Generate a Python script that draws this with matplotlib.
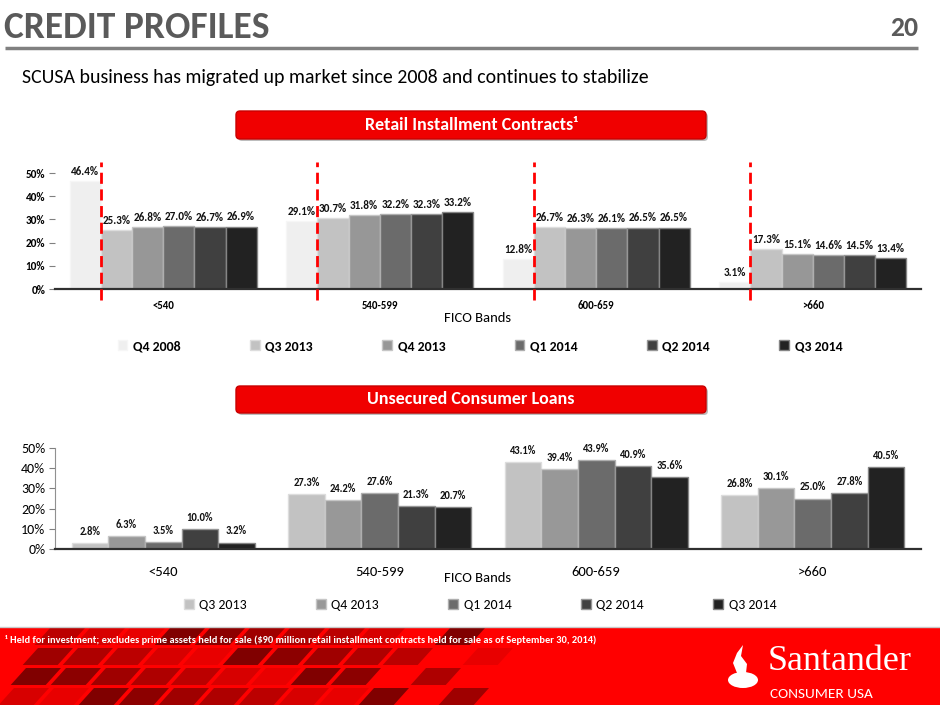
import numpy as np
import matplotlib
matplotlib.use('Agg')
import matplotlib.pyplot as plt
from matplotlib import font_manager
from matplotlib.patches import Rectangle, FancyBboxPatch, Polygon, Ellipse
from matplotlib.colors import to_rgb

#%% Data
bands = ['<540', '540-599', '600-659', '>660']

# Retail installment contracts, share by FICO band (%)
ric_quarters = ['Q4 2008', 'Q3 2013', 'Q4 2013', 'Q1 2014', 'Q2 2014', 'Q3 2014']
ric_q4_2008 = [46.4, 29.1, 12.8, 3.1]
ric_q3_2013 = [25.3, 30.7, 26.7, 17.3]
ric_q4_2013 = [26.8, 31.8, 26.3, 15.1]
ric_q1_2014 = [27.0, 32.2, 26.1, 14.6]
ric_q2_2014 = [26.7, 32.3, 26.5, 14.5]
ric_q3_2014 = [26.9, 33.2, 26.5, 13.4]
ric_values = [ric_q4_2008, ric_q3_2013, ric_q4_2013, ric_q1_2014, ric_q2_2014, ric_q3_2014]
ric_colors = ['#efefef', '#c2c2c2', '#979797', '#6b6b6b', '#404040', '#222222']

# Unsecured consumer loans, share by FICO band (%)
ucl_quarters = ['Q3 2013', 'Q4 2013', 'Q1 2014', 'Q2 2014', 'Q3 2014']
ucl_q3_2013 = [2.8, 27.3, 43.1, 26.8]
ucl_q4_2013 = [6.3, 24.2, 39.4, 30.1]
ucl_q1_2014 = [3.5, 27.6, 43.9, 25.0]
ucl_q2_2014 = [10.0, 21.3, 40.9, 27.8]
ucl_q3_2014 = [3.2, 20.7, 35.6, 40.5]
ucl_values = [ucl_q3_2013, ucl_q4_2013, ucl_q1_2014, ucl_q2_2014, ucl_q3_2014]
ucl_colors = ['#c2c2c2', '#989898', '#6b6b6b', '#404040', '#222222']

#%% Fonts
names = {f.name for f in font_manager.fontManager.ttflist}
body = 'DejaVu Sans'
for cand in ['Carlito', 'Liberation Sans Narrow', 'Open Sans']:
    if cand in names:
        body = cand
        break
plt.rcParams['font.family'] = [body, 'DejaVu Sans']

W, H = 940, 705
fig = plt.figure(figsize=(9.4, 7.05), dpi=100)
bg = fig.add_axes([0, 0, 1, 1])
bg.set_xlim(0, W)
bg.set_ylim(H, 0)
bg.axis('off')

def ax_rect(x0, x1, ytop, ybot):
    return [x0/W, 1 - ybot/H, (x1 - x0)/W, (ybot - ytop)/H]

def lighter(c, f):
    r = np.array(to_rgb(c))
    return tuple(r + (1 - r)*f)

#%% Header
bg.text(4, 28, 'CREDIT PROFILES', fontsize=27, weight='bold', color='#5a5a5a', va='center')
bg.text(918, 28, '20', fontsize=20, weight='bold', color='#5a5a5a', va='center', ha='right')
bg.plot([5, 918], [48, 48], color='#808080', lw=2.5, solid_capstyle='butt')
bg.text(22, 77, 'SCUSA business has migrated up market since 2008 and continues to stabilize',
        fontsize=14.3, va='center', color='black')

def banner(y0, y1, text):
    bg.add_patch(FancyBboxPatch((238, y0 + 2), 470, y1 - y0, boxstyle='round,pad=0,rounding_size=4',
                                fc='#bdbdbd', ec='none'))
    bg.add_patch(FancyBboxPatch((236, y0), 470, y1 - y0, boxstyle='round,pad=0,rounding_size=4',
                                fc='#f00000', ec='#c80000', lw=1))
    bg.text(471, (y0 + y1)/2, text, ha='center', va='center', color='white', weight='bold', fontsize=13)

banner(111, 139, 'Retail Installment Contracts¹')
banner(386, 413, 'Unsecured Consumer Loans')

#%% Retail installment contracts chart
x = np.arange(len(bands))
ax1 = fig.add_axes(ax_rect(55, 921, 173, 289))
n = len(ric_quarters)
w = 0.863/n
for j in range(n):
    pos = x + (j - (n - 1)/2)*w
    ax1.bar(pos, ric_values[j], w, color=ric_colors[j], edgecolor=lighter(ric_colors[j], 0.45),
            linewidth=1, label=ric_quarters[j], zorder=2)
    for p, v in zip(pos, ric_values[j]):
        ax1.annotate('%.1f%%' % v, (p, v), xytext=(0, 3), textcoords='offset points',
                     ha='center', va='bottom', fontsize=8, weight='bold', color='#111111')
for i in x:
    ax1.axvline(i - 2*w, ymin=-0.095, ymax=1.095, color='#ff0000', lw=2, dashes=(4, 2),
                clip_on=False, zorder=3)
ax1.set_xlim(-0.5, 3.5)
ax1.set_ylim(0, 50)
ax1.set_yticks(range(0, 51, 10), ['%d%%' % t for t in range(0, 51, 10)], fontsize=8, weight='bold')
ax1.set_xticks(x, bands, fontsize=7.8, weight='bold')
ax1.tick_params(axis='x', length=0, pad=8)
ax1.tick_params(axis='y', length=4, color='#808080', pad=3)
for s in ['top', 'right', 'left']:
    ax1.spines[s].set_visible(False)
ax1.spines['bottom'].set_color('#303030')
ax1.spines['bottom'].set_linewidth(1.6)
ax1.patch.set_alpha(0)

bg.text(478, 318, 'FICO Bands', ha='center', va='center', fontsize=10.5)
ax1.legend(ncol=6, loc='center', bbox_to_anchor=(480/W, 1 - 346/H), bbox_transform=fig.transFigure,
           frameon=False, prop={'weight': 'bold', 'size': 10}, handlelength=0.7, handleheight=0.7,
           handletextpad=0.4, columnspacing=5.0)

#%% Unsecured consumer loans chart
ax2 = fig.add_axes(ax_rect(55, 921, 448, 549))
n = len(ucl_quarters)
w = 0.845/n
for j in range(n):
    pos = x + (j - (n - 1)/2)*w
    ax2.bar(pos, ucl_values[j], w, color=ucl_colors[j], edgecolor=lighter(ucl_colors[j], 0.45),
            linewidth=1, label=ucl_quarters[j], zorder=2)
    for p, v in zip(pos, ucl_values[j]):
        ax2.annotate('%.1f%%' % v, (p, v), xytext=(0, 4.5), textcoords='offset points',
                     ha='center', va='bottom', fontsize=7.6, weight='bold', color='#111111')
ax2.set_xlim(-0.5, 3.5)
ax2.set_ylim(0, 50)
ax2.set_yticks(range(0, 51, 10), ['%d%%' % t for t in range(0, 51, 10)], fontsize=10)
ax2.set_xticks(x, bands, fontsize=10.5)
ax2.tick_params(axis='x', length=0, pad=12)
ax2.tick_params(axis='y', length=4, color='#808080', pad=3)
for s in ['top', 'right']:
    ax2.spines[s].set_visible(False)
ax2.spines['left'].set_color('#909090')
ax2.spines['bottom'].set_color('#303030')
ax2.spines['bottom'].set_linewidth(1.6)
ax2.patch.set_alpha(0)

bg.text(478, 578, 'FICO Bands', ha='center', va='center', fontsize=10.5)
ax2.legend(ncol=5, loc='center', bbox_to_anchor=(480/W, 1 - 605/H), bbox_transform=fig.transFigure,
           frameon=False, prop={'size': 10}, handlelength=0.7, handleheight=0.7,
           handletextpad=0.4, columnspacing=5.0)

#%% Footer
bg.plot([0, W], [627, 627], color='#c8c8c8', lw=1)
bg.add_patch(Rectangle((0, 628), W, 77, fc='#ff0000', ec='none'))
shades = ['#b00000', '#780000', '#d00000', '#8e0000', '#e40000', '#a00000', '#6a0000']
for r in range(4):
    y0 = 628 + r*20
    y1 = y0 + 17
    for c in range(12):
        xa = c*40 - 10 + r*6
        k = (r*3 + c*2) % len(shades)
        if c > 8 and (r + c) % 2:
            continue
        sk0 = (y0 - 628)*0.9
        sk1 = (y1 - 628)*0.9
        bg.add_patch(Polygon([(xa + 60 - sk0, y0), (xa + 95 - sk0, y0),
                              (xa + 95 - sk1, y1), (xa + 60 - sk1, y1)],
                             closed=True, fc=shades[k], ec='none', alpha=0.85))

bg.text(5, 640, '¹ Held for investment; excludes prime assets held for sale ($90 million retail installment contracts held for sale as of September 30, 2014)',
        fontsize=7.5, weight='bold', color='white', va='center')

bg.add_patch(Ellipse((743, 680), 30, 16, fc='white', ec='none'))
bg.add_patch(Polygon([(737, 673), (733, 663), (737, 653), (743, 645), (741, 656), (747, 664), (746, 673)],
                     closed=True, fc='white', ec='none'))
bg.text(768, 662, 'Santander', family='Liberation Serif', fontsize=26, color='white', va='center')
bg.text(770, 694, 'CONSUMER USA', fontsize=11, color='white', va='center')

fig.savefig('out.png', dpi=100)
